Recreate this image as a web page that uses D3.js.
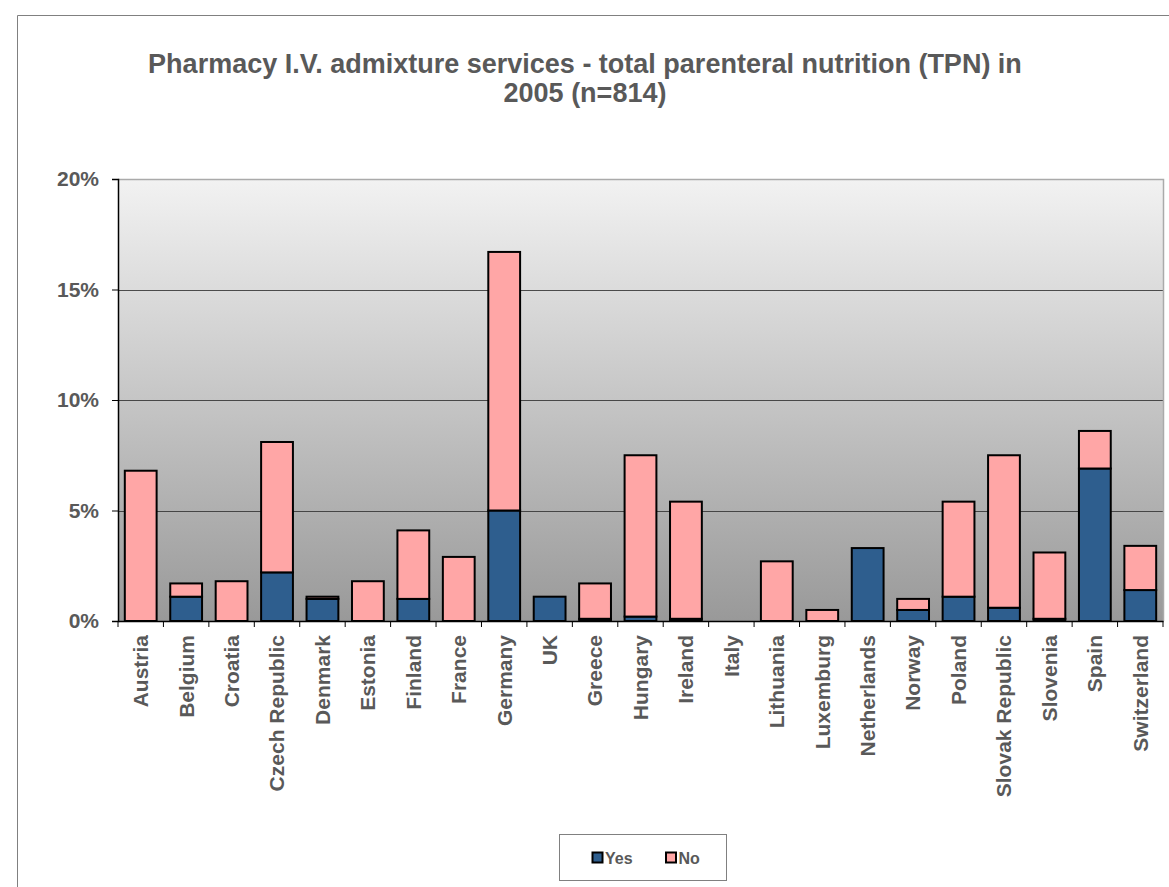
<!DOCTYPE html>
<html><head><meta charset="utf-8">
<script src="https://cdn.jsdelivr.net/npm/d3@7"></script>
<style>body{margin:0;background:#fff;} svg{display:block;font-family:"Liberation Sans",Arial,sans-serif;}</style>
</head><body>
<script>
const categories = ["Austria","Belgium","Croatia","Czech Republic","Denmark","Estonia","Finland","France","Germany","UK","Greece","Hungary","Ireland","Italy","Lithuania","Luxemburg","Netherlands","Norway","Poland","Slovak Republic","Slovenia","Spain","Switzerland"];
const yesValues = [0,1.1,0,2.2,1.0,0,1.0,0,5.0,1.1,0.1,0.2,0.1,0,0,0,3.3,0.5,1.1,0.6,0.1,6.9,1.4];
const noValues  = [6.8,0.6,1.8,5.9,0.1,1.8,3.1,2.9,11.7,0,1.6,7.3,5.3,0,2.7,0.5,0,0.5,4.3,6.9,3.0,1.7,2.0];
const yTicks = [0,5,10,15,20];
const seriesNames = ["Yes","No"];
const colors = {Yes:"#2e5e8e", No:"#ffa6a6"};
const FONT = "Liberation Sans, Arial, sans-serif";
const TXT = "#595959";

const W=1169,H=887;
const svg=d3.select("body").append("svg").attr("width",W).attr("height",H);
const defs=svg.append("defs");
const grad=defs.append("linearGradient").attr("id","bg").attr("x1",0).attr("y1",0).attr("x2",0).attr("y2",1);
grad.append("stop").attr("offset","0%").attr("stop-color","#f2f2f2");
grad.append("stop").attr("offset","100%").attr("stop-color","#999999");

// outer border
svg.append("path").attr("d","M17.5,900 V15.5 H1200").attr("fill","none").attr("stroke","#808080").attr("stroke-width",1);

const L=118,T=179,R=1163,B=621;
const x=d3.scaleBand().domain(categories).range([L,R]).paddingInner(0.3).paddingOuter(0.15);
const y=d3.scaleLinear().domain([0,20]).range([B,T]);

svg.append("rect").attr("x",L).attr("y",T).attr("width",R-L).attr("height",B-T).attr("fill","url(#bg)");
// gridlines
svg.append("g").selectAll("line").data(yTicks.filter(d=>d>0&&d<20)).join("line")
  .attr("x1",L).attr("x2",R).attr("y1",d=>Math.round(y(d))+0.5).attr("y2",d=>Math.round(y(d))+0.5)
  .attr("stroke","#333").attr("stroke-width",1).attr("opacity",0.85);
// top/right border
svg.append("path").attr("d",`M${L},${T+0.5} H${R+0.5} V${B}`).attr("fill","none").attr("stroke","#aaaaaa").attr("stroke-width",1.5);

const data=categories.map((c,i)=>({cat:c,Yes:yesValues[i],No:noValues[i]}));
const stack=d3.stack().keys(seriesNames)(data);
svg.append("g").selectAll("g").data(stack).join("g").attr("fill",d=>colors[d.key])
  .selectAll("rect").data(d=>d.filter(p=>p[1]-p[0]>0)).join("rect")
  .attr("x",d=>x(d.data.cat)).attr("width",x.bandwidth())
  .attr("y",d=>y(d[1])).attr("height",d=>y(d[0])-y(d[1]))
  .attr("stroke","#000").attr("stroke-width",2);

// y axis
const ya=svg.append("g").attr("transform",`translate(${L},0)`)
  .call(d3.axisLeft(y).tickValues(yTicks).tickFormat(d=>d+"%").tickSizeOuter(0).tickSize(6));
ya.select(".domain").attr("stroke","#000").attr("stroke-width",1.5);
ya.selectAll(".tick line").attr("stroke","#000");
ya.selectAll("text").attr("font-size",21).attr("font-weight","bold").attr("fill",TXT).attr("x",-19).attr("font-family",FONT);

// x axis
const xa=svg.append("g").attr("transform",`translate(0,${B})`)
  .call(d3.axisBottom(x).tickSize(0).tickSizeOuter(0));
xa.select(".domain").attr("stroke","#000").attr("stroke-width",1.5);
xa.selectAll("text").attr("font-size",21).attr("font-weight","bold").attr("fill",TXT)
  .attr("font-family",FONT)
  .attr("transform","rotate(-90)").attr("text-anchor","end").attr("x",-14).attr("y",0).attr("dy","0.35em");
// category separator ticks
svg.append("g").selectAll("line").data(d3.range(categories.length+1)).join("line")
  .attr("x1",i=>L+i*(R-L)/categories.length).attr("x2",i=>L+i*(R-L)/categories.length)
  .attr("y1",B).attr("y2",B+6).attr("stroke","#000");

// title
const title=svg.append("text").attr("text-anchor","middle").attr("font-size",27).attr("font-weight","bold").attr("fill",TXT).attr("font-family",FONT);
title.append("tspan").attr("x",585).attr("y",73).text("Pharmacy I.V. admixture services - total parenteral nutrition (TPN) in");
title.append("tspan").attr("x",585).attr("y",102).text("2005 (n=814)");

// legend
const lg=svg.append("g");
lg.append("rect").attr("x",559.5).attr("y",834.5).attr("width",167).attr("height",46).attr("fill","#fff").attr("stroke","#808080");
const items=[{k:"Yes",x:592.5},{k:"No",x:666}];
items.forEach(it=>{
  lg.append("rect").attr("x",it.x).attr("y",852.5).attr("width",10).attr("height",10).attr("fill",colors[it.k]).attr("stroke","#000").attr("stroke-width",2);
  lg.append("text").attr("x",it.x+12.5).attr("y",864).attr("font-size",16).attr("font-weight","bold").attr("fill",TXT).attr("font-family",FONT).text(it.k);
});
</script>
</body></html>
